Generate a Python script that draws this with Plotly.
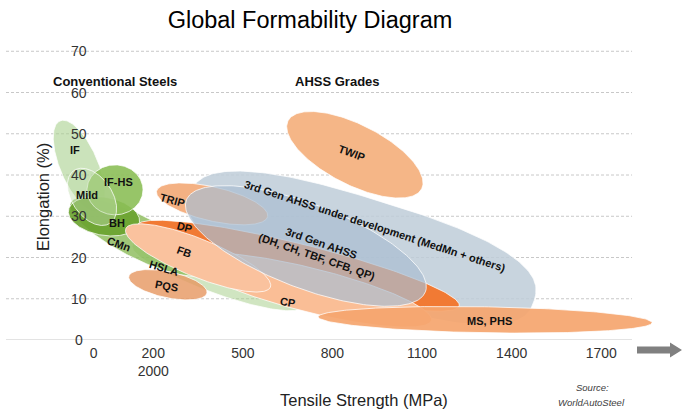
import numpy as np
import plotly.graph_objects as go

# ---------------- data ----------------
grades = ["IF", "HSLA", "CMn", "BH", "IF-HS", "Mild", "3rd Gen (dev)", "TRIP", "DP",
          "CP", "FB", "PQS", "3rd Gen AHSS", "MS, PHS", "TWIP"]
# ellipse centres: tensile strength (MPa) and elongation (%)
center_ts = [-48, 413, 150, 35, 72, -5, 899, 397, 685, 725, 350, 249, 711, 1311, 875]
center_el = [42.2, 15.5, 25.0, 30.0, 36.4, 34.7, 22.3, 33.0, 18.0, 12.1, 19.9, 13.4, 22.8, 4.9, 44.9]

x_tick_vals = [0, 200, 500, 800, 1100, 1400, 1700]
x_tick_text = ["0", "200<br>2000", "500", "800", "1100", "1400", "1700"]
y_tick_vals = [0, 10, 20, 30, 40, 50, 60, 70]

label_text = ["IF", "Mild", "IF-HS", "BH", "CMn", "HSLA", "PQS", "TRIP", "DP", "FB", "CP", "TWIP",
              "3rd Gen AHSS under development (MedMn + others)",
              "3rd Gen AHSS<br>(DH, CH, TBF, CFB, QP)", "MS, PHS"]
label_ts = [-62, -22, 82, 79, 85, 236, 246, 263, 303, 306, 648, 865, 942, 758, 1327]
label_el = [46.1, 35.2, 38.4, 28.4, 23.3, 17.5, 13.1, 34.0, 27.4, 21.4, 9.2, 45.4, 27.7, 21.8, 4.6]

# ---------------- styles ----------------
W, H = 690, 417
ML, MR, MT, MB = 6, 0, 43, 77
X_RANGE = [-293, 1997]
Y_RANGE = [0, 72]
GRID_X = [-293, 1803]
plot_w = W - ML - MR
plot_h = H - MT - MB
sx = plot_w / (X_RANGE[1] - X_RANGE[0])
sy = plot_h / (Y_RANGE[1] - Y_RANGE[0])

# shape sizes (semi-axes in screen px), rotation (deg, clockwise), squareness exponent
semi_a = [49, 90, 76, 36, 28, 32, 180, 57, 166, 125, 78, 40, 128, 167, 75]
semi_b = [19, 17, 21, 19, 25, 20, 50, 17, 22, 22, 19, 13, 42, 13, 30]
angle = [67, 20, 27, 10, 0, 55, 17, 13, 14, 14, 22, 12, 21, 1, 27]
expo = [2, 2, 2, 2, 2, 2, 2.6, 2, 2, 2, 2, 2, 2, 2, 2]
fills = ["rgba(169,208,142,0.6)", "rgba(169,208,142,0.55)", "rgba(140,188,92,0.82)",
         "rgba(105,162,45,0.9)", "rgba(140,191,88,0.9)", "rgba(190,220,170,0.45)",
         "rgba(190,205,216,0.85)", "rgb(244,177,131)", "rgb(241,122,52)",
         "rgb(250,190,150)", "rgb(250,194,158)", "rgba(230,150,95,0.8)",
         "rgba(170,190,210,0.7)", "rgba(245,165,110,0.92)", "rgb(245,182,135)"]
label_angle = [0, 0, 0, 0, 20, 17, 10, 15, 15, 20, 10, 20, 18, 19, 0]

FONT = "Liberation Sans, Arial, sans-serif"

fig = go.Figure()

t = np.linspace(0, 2 * np.pi, 240)
for i, g in enumerate(grades):
    c, s = np.cos(t), np.sin(t)
    p = 2.0 / expo[i]
    lx = semi_a[i] * np.sign(c) * np.abs(c) ** p
    ly = semi_b[i] * np.sign(s) * np.abs(s) ** p
    th = np.deg2rad(angle[i])
    dx = lx * np.cos(th) - ly * np.sin(th)
    dy = lx * np.sin(th) + ly * np.cos(th)
    xs = center_ts[i] + dx / sx
    ys = center_el[i] - dy / sy
    fig.add_trace(go.Scatter(x=xs, y=ys, mode="lines", fill="toself",
                             fillcolor=fills[i],
                             line=dict(color="rgba(255,255,255,0.75)", width=1),
                             hoverinfo="skip", showlegend=False, name=g))

shapes = []
for v in y_tick_vals:
    shapes.append(dict(type="line", xref="x", yref="y", x0=GRID_X[0], x1=GRID_X[1], y0=v, y1=v,
                       layer="below",
                       line=dict(color="rgb(200,200,200)", width=1.2 if v == 0 else 1,
                                 dash="solid" if v == 0 else "3px,2px")))

def px_to_paper(px, py):
    return (px - ML) / plot_w, (H - MB - py) / plot_h

# block arrow at right of x axis
pts = [(637, 346.5), (670, 346.5), (670, 342.5), (682, 350), (670, 357.5), (670, 353.5), (637, 353.5)]
pp = [px_to_paper(a, b) for a, b in pts]
path = "M " + " L ".join(f"{a:.5f},{b:.5f}" for a, b in pp) + " Z"
shapes.append(dict(type="path", xref="paper", yref="paper", path=path,
                   fillcolor="rgb(128,128,128)", line=dict(width=0)))

ann = []
for i, txt in enumerate(label_text):
    ann.append(dict(x=label_ts[i], y=label_el[i], xref="x", yref="y", text=f"<b>{txt}</b>",
                    showarrow=False, textangle=label_angle[i], xanchor="center", yanchor="middle",
                    font=dict(family=FONT, size=11, color="#111111")))
for v in y_tick_vals:
    ann.append(dict(x=-48, y=v, xref="x", yref="y", text=str(v), showarrow=False,
                    xanchor="center", yanchor="middle",
                    font=dict(family=FONT, size=14, color="#333333")))

def paper_text(txt, px, py, size, color, angle=0):
    xp, yp = px_to_paper(px, py)
    ann.append(dict(x=xp, y=yp, xref="paper", yref="paper", text=txt, showarrow=False,
                    xanchor="center", yanchor="middle", textangle=angle,
                    font=dict(family=FONT, size=size, color=color)))

paper_text("<b>Conventional Steels</b>", 115, 82, 13, "#111111")
paper_text("<b>AHSS Grades</b>", 337, 82, 13, "#111111")
paper_text("Elongation (%)", 43, 197, 16.5, "#222222", -90)
paper_text("Tensile Strength (MPa)", 364, 400, 16.5, "#222222")
paper_text("<i>Source:</i>", 592, 387, 9.5, "#404040")
paper_text("<i>WorldAutoSteel</i>", 591, 402, 9.5, "#404040")

fig.update_layout(
    width=W, height=H,
    margin=dict(l=ML, r=MR, t=MT, b=MB, pad=0),
    paper_bgcolor="white", plot_bgcolor="white",
    title=dict(text="Global Formability Diagram", x=310 / W, xanchor="center",
               y=1 - 20 / H, yanchor="middle",
               font=dict(family=FONT, size=23.5, color="#000000")),
    xaxis=dict(range=X_RANGE, tickvals=x_tick_vals, ticktext=x_tick_text, showgrid=False,
               zeroline=False, showline=False, ticks="", fixedrange=True, ticklabelstandoff=3,
               tickfont=dict(family=FONT, size=14, color="#333333")),
    yaxis=dict(range=Y_RANGE, showgrid=False, zeroline=False, showline=False,
               showticklabels=False, ticks="", fixedrange=True),
    shapes=shapes, annotations=ann, showlegend=False,
)

fig.write_html("out.html")
